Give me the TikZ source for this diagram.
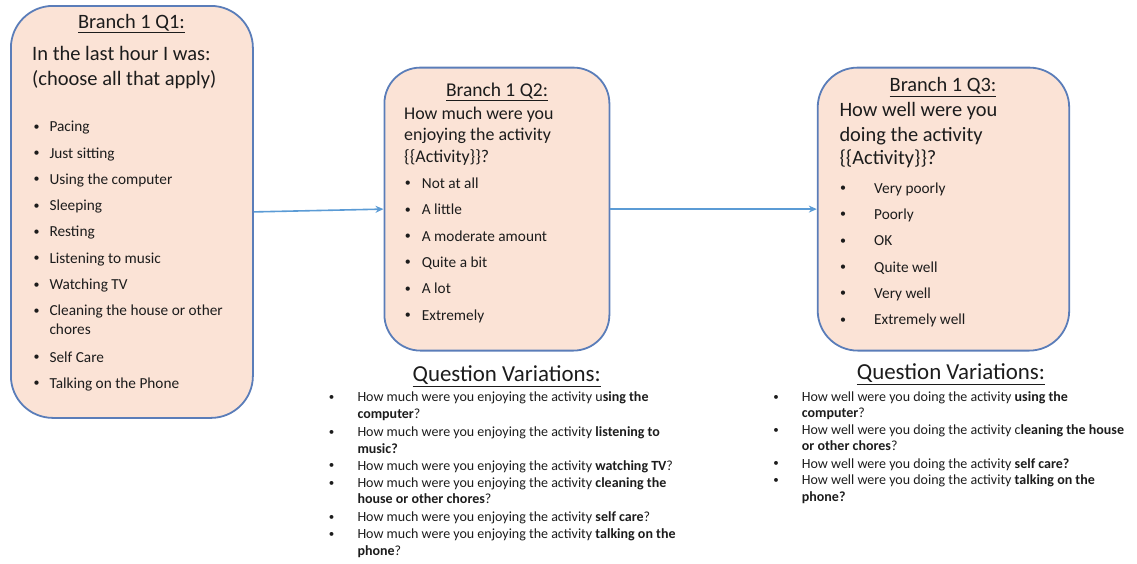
\documentclass[tikz,border=0pt]{standalone}
\usepackage{fontspec}
\setmainfont{Carlito}
\usetikzlibrary{arrows.meta}
\definecolor{boxfill}{HTML}{FBE3D6}
\definecolor{boxline}{HTML}{5A7DB9}
\definecolor{arrowblue}{HTML}{5B9BD5}
\definecolor{ink}{HTML}{1C1C1C}
\newcommand{\fs}[1]{\fontsize{#1}{#1}\selectfont}
\tikzset{
  qbox/.style={draw=boxline, line width=1.8pt, fill=boxfill, rounded corners=#1,
               inner sep=0pt, anchor=north west},
  txt/.style={inner sep=0pt, anchor=base west, text=ink},
  ctxt/.style={inner sep=0pt, anchor=base, text=ink},
  dot/.style={inner sep=0pt, anchor=center, text=ink, font=\fs{#1}},
  flow/.style={draw=arrowblue, line width=1.6pt, -{Stealth[length=8pt,width=7pt]}},
}
\begin{document}
\begin{tikzpicture}[x=1pt,y=-1pt]
\useasboundingbox (0,0) rectangle (1137,563);

% question boxes
\node[qbox=42pt, minimum width=242pt, minimum height=412pt] (b1) at (10,5) {};
\node[qbox=36pt, minimum width=225pt, minimum height=283pt] (b2) at (383.5,66.7) {};
\node[qbox=40pt, minimum width=251.5pt, minimum height=283pt] (b3) at (816.8,66.7) {};

% connectors
\draw[flow] (b1.east) -- (b2.west);
\draw[flow] (b2.east) -- (b3.west);

% ---- Branch 1 Q1
\node[ctxt, font=\fs{20.4}] (t1) at (131.5,28.3) {\underline{Branch 1 Q1:}};
\node[txt, font=\fs{20.5}] (q1a) at (32,60) {In the last hour I was:};
\node[txt, font=\fs{20.5}] (q1b) at (32,85) {(choose all that apply)};
\foreach \t/\y [count=\i] in {Pacing/131.7, Just sitting/158, Using the computer/184.3,
    Sleeping/210.6, Resting/236.9, Listening to music/263.2, Watching TV/289.5,
    Cleaning the house or other/315.8, Self Care/362, Talking on the Phone/388}{
  \node[dot=12] (o1b\i) at (36.7,\y-4.2) {\textbullet};
  \node[txt, font=\fs{15.3}] (o1t\i) at (49.3,\y) {\t};
}
\node[txt, font=\fs{15.3}] (o1c) at (49.3,334) {chores};

% ---- Branch 1 Q2
\node[ctxt, font=\fs{19.5}] (t2) at (497,96) {\underline{Branch 1 Q2:}};
\node[txt, font=\fs{17.9}] (q2a) at (404,119.3) {How much were you};
\node[txt, font=\fs{17.9}] (q2b) at (404,140.5) {enjoying the activity};
\node[txt, font=\fs{17.9}] (q2c) at (404,162) {\{\{Activity\}\}?};
\foreach \t/\y [count=\i] in {Not at all/188.3, A little/214.7, A moderate amount/241.1,
    Quite a bit/267.5, A lot/293.9, Extremely/320.3}{
  \node[dot=12] (o2b\i) at (407.8,\y-4.4) {\textbullet};
  \node[txt, font=\fs{15.3}] (o2t\i) at (421.7,\y) {\t};
}

% ---- Branch 1 Q3
\node[ctxt, font=\fs{20.4}] (t3) at (943,91.7) {\underline{Branch 1 Q3:}};
\node[txt, font=\fs{20.4}] (q3a) at (839.3,116) {How well were you};
\node[txt, font=\fs{20.4}] (q3b) at (839.3,141.7) {doing the activity};
\node[txt, font=\fs{20.4}] (q3c) at (839.3,164.5) {\{\{Activity\}\}?};
\foreach \t/\y [count=\i] in {Very poorly/193.3, Poorly/219.6, OK/245.9,
    Quite well/272.2, Very well/298.5, Extremely well/324.8}{
  \node[dot=12] (o3b\i) at (843.2,\y-4.4) {\textbullet};
  \node[txt, font=\fs{15.3}] (o3t\i) at (874,\y) {\t};
}

% ---- variations for Q2
\node[ctxt, font=\fs{22.9}] (v2) at (506.7,381.5) {\underline{Question Variations:}};
\begin{scope}[every node/.append style={font=\fs{14}}]
\foreach \y [count=\i] in {401.7,436.7,470,487.4,521.7,538.4}{
  \node[dot=11] (v2b\i) at (331.5,\y-3.8) {\textbullet};
}
\node[txt] (v2l1) at (357.3,401.7)   {How much were you enjoying the activity u\textbf{sing the}};
\node[txt] (v2l2) at (357.3,418.3)   {\textbf{computer}?};
\node[txt] (v2l3) at (357.3,436.7)   {How much were you enjoying the activity \textbf{listening to}};
\node[txt] (v2l4) at (357.3,453.3)   {\textbf{music?}};
\node[txt] (v2l5) at (357.3,470)     {How much were you enjoying the activity \textbf{watching TV}?};
\node[txt] (v2l6) at (357.3,487.4)   {How much were you enjoying the activity \textbf{cleaning the}};
\node[txt] (v2l7) at (357.3,503.4)   {\textbf{house or other chores}?};
\node[txt] (v2l8) at (357.3,521.7)   {How much were you enjoying the activity \textbf{self care}?};
\node[txt] (v2l9) at (357.3,538.4)   {How much were you enjoying the activity \textbf{talking on the}};
\node[txt] (v2l10) at (357.3,555)    {\textbf{phone}?};
\end{scope}

% ---- variations for Q3
\node[ctxt, font=\fs{22.9}] (v3) at (951,379.5) {\underline{Question Variations:}};
\begin{scope}[every node/.append style={font=\fs{14}}]
\foreach \y [count=\i] in {401.5,434.8,468.2,484.8}{
  \node[dot=11] (v3b\i) at (776,\y-3.8) {\textbullet};
}
\node[txt] (v3l1) at (801.7,401.5)   {How well were you doing the activity \textbf{using the}};
\node[txt] (v3l2) at (801.7,417.2)   {\textbf{computer}?};
\node[txt] (v3l3) at (801.7,434.8)   {How well were you doing the activity c\textbf{leaning the house}};
\node[txt] (v3l4) at (801.7,450.5)   {\textbf{or other chores}?};
\node[txt] (v3l5) at (801.7,468.2)   {How well were you doing the activity \textbf{self care?}};
\node[txt] (v3l6) at (801.7,484.8)   {How well were you doing the activity \textbf{talking on the}};
\node[txt] (v3l7) at (801.7,501.5)   {\textbf{phone?}};
\end{scope}
\end{tikzpicture}
\end{document}
